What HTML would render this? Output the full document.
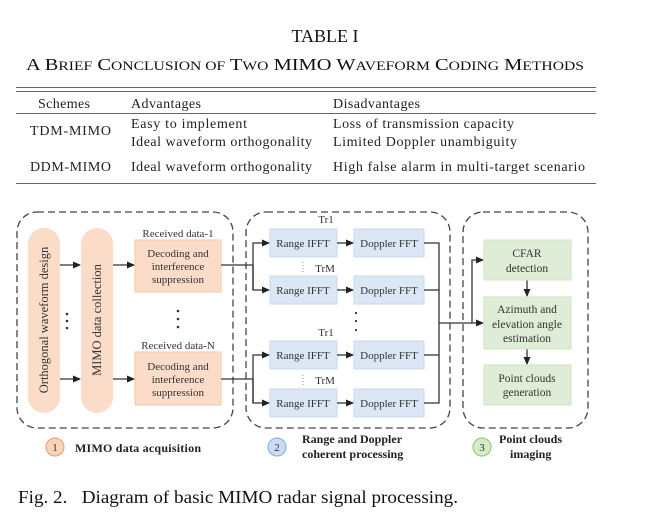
<!DOCTYPE html>
<html><head><meta charset="utf-8"><style>
body{margin:0;background:#fff;}
svg{display:block;font-family:"Liberation Serif",serif;}
</style></head><body>
<svg width="651" height="531" viewBox="0 0 651 531" xmlns="http://www.w3.org/2000/svg">
<defs><marker id="a" markerWidth="8" markerHeight="8" refX="7" refY="4" orient="auto" markerUnits="userSpaceOnUse"><path d="M0,0.5 L8,4 L0,7.5 Z" fill="#222"/></marker></defs>
<!-- table -->
<text x="325" y="42" font-size="18" text-anchor="middle" fill="#111">TABLE I</text>
<text x="305" y="70" font-size="17" text-anchor="middle" fill="#111" textLength="558" lengthAdjust="spacingAndGlyphs">A B<tspan font-size="13">RIEF</tspan> C<tspan font-size="13">ONCLUSION OF</tspan> T<tspan font-size="13">WO</tspan> MIMO W<tspan font-size="13">AVEFORM</tspan> C<tspan font-size="13">ODING</tspan> M<tspan font-size="13">ETHODS</tspan></text>
<g stroke="#666" stroke-width="1"><line x1="16" y1="87.5" x2="596" y2="87.5"/><line x1="16" y1="91.5" x2="596" y2="91.5"/><line x1="16" y1="113.5" x2="596" y2="113.5"/><line x1="16" y1="183.5" x2="596" y2="183.5"/></g>
<g font-size="14" fill="#222" lengthAdjust="spacingAndGlyphs">
<text x="38" y="108" textLength="52">Schemes</text><text x="131" y="108" textLength="70">Advantages</text><text x="333" y="108" textLength="87">Disadvantages</text>
<text x="30" y="135" textLength="81">TDM-MIMO</text><text x="131" y="128" textLength="116">Easy to implement</text><text x="333" y="128" textLength="181">Loss of transmission capacity</text>
<text x="131" y="146" textLength="181">Ideal waveform orthogonality</text><text x="333" y="146" textLength="184">Limited Doppler unambiguity</text>
<text x="30" y="171" textLength="81">DDM-MIMO</text><text x="131" y="171" textLength="181">Ideal waveform orthogonality</text><text x="333" y="171" textLength="252">High false alarm in multi-target scenario</text>
</g>
<!-- dashed boxes -->
<g fill="none" stroke="#444" stroke-width="1.3" stroke-dasharray="7,4">
<rect x="17" y="212" width="216" height="216" rx="20"/>
<rect x="246" y="212" width="204" height="216" rx="20"/>
<rect x="463" y="212" width="125" height="216" rx="20"/>
</g>
<!-- pills -->
<rect x="28" y="228" width="32" height="185" rx="16" fill="#fbdcc8"/>
<rect x="81" y="228" width="32" height="185" rx="16" fill="#fbdcc8"/>
<g font-size="12.5" fill="#333">
<text transform="translate(48,320) rotate(-90)" text-anchor="middle">Orthogonal  waveform design</text>
<text transform="translate(101,320) rotate(-90)" text-anchor="middle">MIMO data collection</text>
</g>
<g fill="#333"><circle cx="67" cy="314" r="1.3"/><circle cx="67" cy="321" r="1.3"/><circle cx="67" cy="328" r="1.3"/>
<circle cx="178" cy="311" r="1.3"/><circle cx="178" cy="319" r="1.3"/><circle cx="178" cy="327" r="1.3"/>
<circle cx="356" cy="313" r="1.1"/><circle cx="356" cy="321" r="1.1"/><circle cx="356" cy="330" r="1.1"/></g>
<!-- orange boxes -->
<rect x="135" y="240" width="86" height="52" fill="#fbdcc8" stroke="#f5c6a5"/>
<rect x="135" y="352" width="86" height="53" fill="#fbdcc8" stroke="#f5c6a5"/>
<g font-size="11" fill="#333" text-anchor="middle">
<text x="178" y="237">Received data-1</text>
<text x="178" y="257">Decoding and</text><text x="178" y="270">interference</text><text x="178" y="283">suppression</text>
<text x="178" y="349">Received data-N</text>
<text x="178" y="370">Decoding and</text><text x="178" y="383">interference</text><text x="178" y="396">suppression</text>
</g>
<!-- arrows block1 -->
<g stroke="#333" stroke-width="1.3" fill="none">
<line x1="60" y1="265" x2="80" y2="265" marker-end="url(#a)"/>
<line x1="60" y1="379" x2="80" y2="379" marker-end="url(#a)"/>
<line x1="113" y1="265" x2="134" y2="265" marker-end="url(#a)"/>
<line x1="113" y1="379" x2="134" y2="379" marker-end="url(#a)"/>
<polyline points="221,265 253,265"/><polyline points="253,290 253,243 269,243" marker-end="url(#a)"/><polyline points="253,265 253,290 269,290" marker-end="url(#a)"/>
<polyline points="221,379 253,379"/><polyline points="253,403 253,355 269,355" marker-end="url(#a)"/><polyline points="253,379 253,403 269,403" marker-end="url(#a)"/>
</g>
<!-- blue boxes -->
<g fill="#dbe7f4" stroke="#c8daee">
<rect x="270" y="229" width="67" height="28"/><rect x="354" y="229" width="70" height="28"/>
<rect x="270" y="276" width="67" height="28"/><rect x="354" y="276" width="70" height="28"/>
<rect x="270" y="341" width="67" height="28"/><rect x="354" y="341" width="70" height="28"/>
<rect x="270" y="389" width="67" height="28"/><rect x="354" y="389" width="70" height="28"/>
</g>
<g font-size="11" fill="#333" text-anchor="middle">
<text x="303" y="247">Range IFFT</text><text x="389" y="247">Doppler FFT</text>
<text x="303" y="294">Range IFFT</text><text x="389" y="294">Doppler FFT</text>
<text x="303" y="359">Range IFFT</text><text x="389" y="359">Doppler FFT</text>
<text x="303" y="407">Range IFFT</text><text x="389" y="407">Doppler FFT</text>
<text x="326" y="223">Tr1</text><text x="325" y="272">TrM</text>
<text x="326" y="336">Tr1</text><text x="325" y="384">TrM</text>
</g>
<g stroke="#999" stroke-width="1" stroke-dasharray="1,2"><line x1="303" y1="262" x2="303" y2="273"/><line x1="303" y1="375" x2="303" y2="386"/></g>
<g stroke="#333" stroke-width="1.3" fill="none">
<line x1="337" y1="243" x2="353" y2="243" marker-end="url(#a)"/>
<line x1="337" y1="290" x2="353" y2="290" marker-end="url(#a)"/>
<line x1="337" y1="355" x2="353" y2="355" marker-end="url(#a)"/>
<line x1="337" y1="403" x2="353" y2="403" marker-end="url(#a)"/>
<polyline points="424,243 439,243 439,403 424,403"/>
<line x1="424" y1="290" x2="439" y2="290"/><line x1="424" y1="355" x2="439" y2="355"/>
<line x1="439" y1="323" x2="483" y2="323" marker-end="url(#a)"/>
<polyline points="472,323 472,260 483,260" marker-end="url(#a)"/>
<line x1="527" y1="280" x2="527" y2="296" marker-end="url(#a)"/>
<line x1="527" y1="349" x2="527" y2="364" marker-end="url(#a)"/>
</g>
<!-- green -->
<g fill="#e0edd6" stroke="#cfe3c0">
<rect x="484" y="240" width="87" height="40"/><rect x="484" y="297" width="87" height="52"/><rect x="484" y="365" width="87" height="40"/>
</g>
<g font-size="11.5" fill="#333" text-anchor="middle">
<text x="527" y="257">CFAR</text><text x="527" y="272">detection</text>
<text x="527" y="313">Azimuth and</text><text x="527" y="328">elevation angle</text><text x="527" y="342">estimation</text>
<text x="527" y="382">Point clouds</text><text x="527" y="396">generation</text>
</g>
<!-- legend -->
<circle cx="55" cy="447" r="9" fill="#fbd3b8" stroke="#ee9a66"/><text x="55" y="451" font-size="11" text-anchor="middle" fill="#333">1</text>
<text x="75" y="452" font-size="12" font-weight="bold" fill="#222" textLength="126">MIMO  data acquisition</text>
<circle cx="277" cy="447" r="9" fill="#c9dcf2" stroke="#80aee0"/><text x="277" y="451" font-size="11" text-anchor="middle" fill="#333">2</text>
<text x="302" y="443" font-size="12" font-weight="bold" fill="#222">Range and Doppler</text>
<text x="302" y="458" font-size="12" font-weight="bold" fill="#222">coherent processing</text>
<circle cx="482" cy="447" r="9" fill="#d6eac8" stroke="#8fc46e"/><text x="482" y="451" font-size="11" text-anchor="middle" fill="#333">3</text>
<text x="499" y="443" font-size="12" font-weight="bold" fill="#222">Point clouds</text>
<text x="510" y="458" font-size="12" font-weight="bold" fill="#222">imaging</text>
<!-- caption -->
<text x="18" y="503" font-size="18" fill="#111" xml:space="preserve" textLength="440" lengthAdjust="spacingAndGlyphs">Fig. 2.   Diagram of basic MIMO radar signal processing.</text>
</svg>
</body></html>
